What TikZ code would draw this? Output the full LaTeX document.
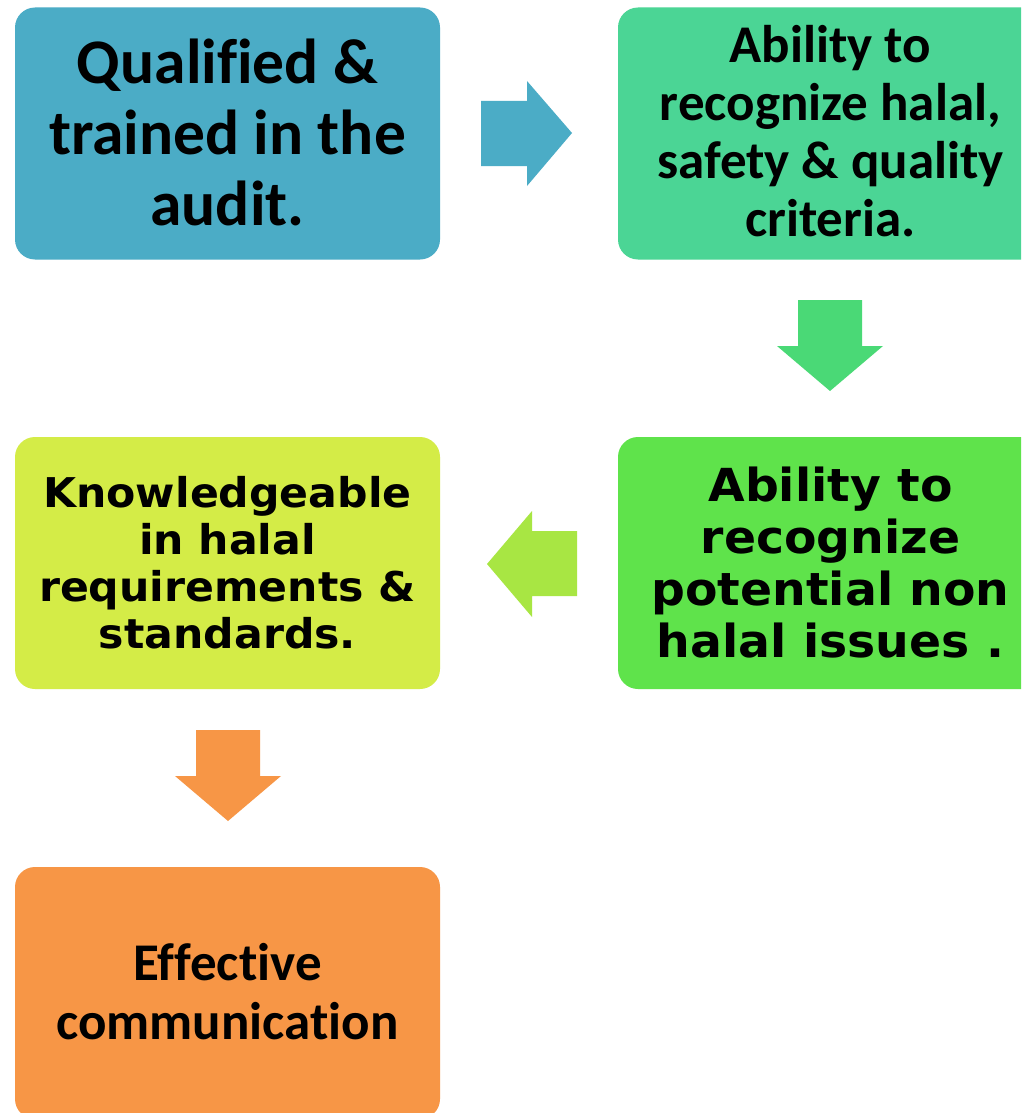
\documentclass[tikz,border=0pt]{standalone}
\usepackage{fontspec}
\newfontfamily\calfont{Carlito}[Ligatures=NoCommon]
\newfontfamily\verfont{DejaVu Sans}[FakeStretch=1.04]
\usetikzlibrary{calc}
\definecolor{cBlue}{RGB}{75,172,198}
\definecolor{cTeal}{RGB}{75,213,149}
\definecolor{cGreenArrow}{RGB}{74,217,118}
\definecolor{cGreen}{RGB}{95,227,75}
\definecolor{cLimeArrow}{RGB}{168,230,67}
\definecolor{cLime}{RGB}{212,236,71}
\definecolor{cOrange}{RGB}{247,150,70}
\begin{document}
\begin{tikzpicture}[x=1pt,y=-1pt,
  box/.style={rounded corners=20pt, minimum width=425pt, minimum height=252pt, inner sep=0pt, draw=none},
  lbl/.style={align=center, inner sep=0pt, text=black}]
\clip (0,0) rectangle (1021,1113);
\fill[white] (0,0) rectangle (1021,1113);
% boxes
\node[box, fill=cBlue]   (b1) at (227.5,133.5) {};
\node[box, fill=cTeal]   (b2) at (830.5,133.5) {};
\node[box, fill=cGreen]  (b3) at (830.5,563)   {};
\node[box, fill=cLime]   (b4) at (227.5,563)   {};
\node[box, fill=cOrange] (b5) at (227.5,993)   {};
% labels
\node[lbl, font={\calfont\bfseries\fontsize{63.5}{71}\selectfont}] (t1) at ($(b1.center)+(0,-1)$) {Qualified \&\\trained in the\\audit.};
\node[lbl, font={\calfont\bfseries\fontsize{53}{58}\selectfont}] (t2) at ($(b2.center)+(0,-2)$) {Ability to\\recognize halal,\\safety \& quality\\criteria.};
\node[lbl, font={\verfont\bfseries\fontsize{45.5}{52}\selectfont}] (t3) at (b3.center) {Ability to\\recognize\\potential non\\halal issues .};
\node[lbl, font={\verfont\bfseries\fontsize{41}{47}\selectfont}] (t4) at (b4.center) {Knowledgeable\\in halal\\requirements \&\\standards.};
\node[lbl, font={\calfont\bfseries\fontsize{53}{59}\selectfont}] (t5) at ($(b5.center)+(0,-1)$) {Effective\\communication};
% block arrows
\fill[cBlue] (481,101) -- (527,101) -- (527,81) -- (572,133) -- (527,186) -- (527,166) -- (481,166) -- cycle;
\fill[cGreenArrow] (798,300) -- (862,300) -- (862,346) -- (883,346) -- (830,391) -- (777,346) -- (798,346) -- cycle;
\fill[cLimeArrow] (577,531) -- (532,531) -- (532,511) -- (487,564) -- (532,617) -- (532,596) -- (577,596) -- cycle;
\fill[cOrange] (196,730) -- (260,730) -- (260,776) -- (281,776) -- (228,821) -- (175,776) -- (196,776) -- cycle;
\end{tikzpicture}
\end{document}
